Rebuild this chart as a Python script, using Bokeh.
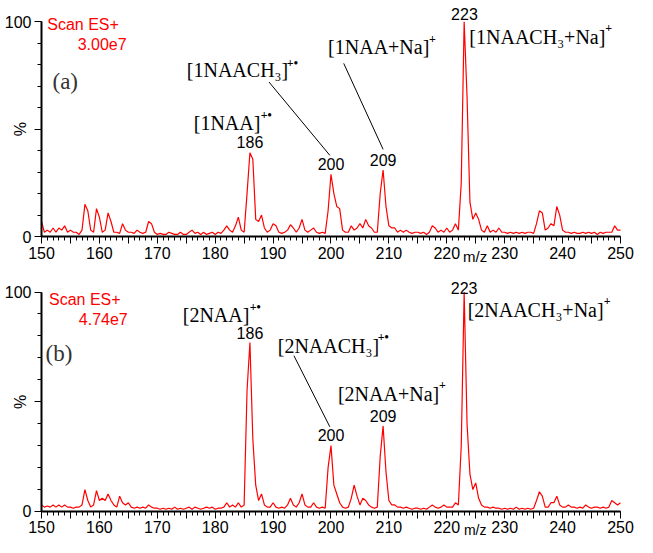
import numpy as np
from bokeh.plotting import figure
from bokeh.layouts import column
from bokeh.models import FixedTicker, Label, Range1d
from bokeh.embed import file_html
from bokeh.resources import INLINE

# ---------------- data ----------------
MZ_START, MZ_STEP = 150, 0.5

# panel (a) relative intensity (%), sampled every 0.5 m/z from 150 to 250
intens_a = [
    7, 2, 3, 2, 4, 2, 4, 3, 5, 2,            # 150
    3, 2, 2, 1, 3, 15, 12, 3, 2, 13,         # 155
    9, 2, 3, 11, 7, 2, 2, 1.5, 6, 3,         # 160
    2, 2, 1.5, 3, 2, 1.5, 2, 7, 6, 2,        # 165
    1, 1.5, 1, 1, 2, 1.5, 1, 1, 2, 1,        # 170
    1, 2, 3, 1.5, 2, 1, 2, 1, 1.5, 2,        # 175
    1, 2, 1.5, 3, 5, 3, 2, 5, 9, 3,          # 180
    2, 20, 39, 36, 8, 7, 10, 4, 2, 3,        # 185
    6, 5, 2, 1.5, 2, 3, 5.5, 4, 2, 4,        # 190
    8, 3, 2, 3, 4, 2, 1.5, 2, 1.5, 12,       # 195
    29, 20, 14, 13, 3, 2, 2, 5, 3, 4,        # 200
    6, 4, 8, 5, 4, 2, 2, 20, 31, 14,         # 205
    5, 4, 4, 2, 3, 2, 3, 2, 1.5, 2,          # 210
    2, 1.5, 2, 1, 2, 5, 4, 2, 3, 2,          # 215
    4, 2, 3, 6, 3, 25, 100, 65, 16, 8,       # 220
    11, 8, 3, 2, 5, 2, 3, 2, 4, 2,           # 225
    2, 1.5, 2, 1.5, 2, 1.5, 2, 1.5, 2, 2,    # 230
    1.5, 6, 12, 11, 3, 4, 6, 5, 14, 10,      # 235
    3, 2, 2, 1.5, 2, 1.5, 1.5, 2, 1.5, 2,    # 240
    1.5, 2, 1, 2, 1.5, 2, 2, 2, 5, 3,        # 245
    3,                                       # 250
]

# panel (b)
intens_b = [
    3, 2, 2.5, 2, 3, 2, 3, 2, 3, 2,          # 150
    2, 1.5, 2, 2, 3, 10, 5, 2, 3, 9.5,       # 155
    5, 6, 5, 8, 5, 3, 2, 7, 4, 3,            # 160
    4, 2, 1.5, 2, 1.5, 2, 1.5, 3, 2, 1.5,    # 165
    1.5, 1, 1.5, 1, 1.5, 1, 2, 1, 1.5, 1,    # 170
    1.5, 2, 1, 2, 1.5, 1, 1.5, 2, 1.5, 2,    # 175
    1, 1.5, 1.5, 2, 4, 2, 3, 2, 4, 2,        # 180
    3, 55, 77, 33, 12, 5, 8, 3, 2, 2,        # 185
    4, 2, 1.5, 2, 1.5, 3, 6, 3, 2, 4,        # 190
    8, 3, 2, 2, 4, 2, 1.5, 2, 1.5, 20,       # 195
    30, 12, 8, 4, 2, 1.5, 2, 6, 12, 7,       # 200
    3, 6, 5, 3, 2, 1.5, 2, 25, 39, 18,       # 205
    5, 3, 3, 2, 2, 1.5, 2, 1.5, 1, 1.5,      # 210
    1.5, 1, 1.5, 1, 2, 3, 2, 1.5, 2, 3,      # 215
    2, 2, 2, 4, 3, 30, 100, 40, 17, 10,      # 220
    13, 6, 3, 2, 2, 1.5, 2, 1.5, 1.5, 1,     # 225
    1.5, 1, 1.5, 1, 2, 1, 1.5, 1, 1.5, 1,    # 230
    1.5, 5, 9, 7, 2, 2, 4, 4, 7, 3,          # 235
    2, 2, 3, 2, 2, 1.5, 2, 1.5, 3, 2,        # 240
    1.5, 2, 2, 1.5, 2, 1.5, 2, 5, 4, 3,      # 245
    4,                                       # 250
]

x_ticks = list(range(150, 251, 10))
x_labels = [str(v) for v in x_ticks]
y_ticks = [0, 50, 100]
y_labels = ["0", "", "100"]

SANS = "Liberation Sans"
SERIF = "Liberation Serif"


def add_label(p, x, y, text, size="16px", font=SANS, color="black",
              align="left", baseline="middle", x_offset=0, angle=0,
              style="normal"):
    p.add_layout(Label(x=x, y=y, text=text, text_font=font,
                       text_font_size=size, text_color=color,
                       text_align=align, text_baseline=baseline,
                       x_offset=x_offset, angle=angle,
                       text_font_style=style))


def make_panel(intens, height, border_top, y_start):
    mz = MZ_START + MZ_STEP * np.arange(len(intens))
    p = figure(width=637, height=height, x_range=Range1d(143.61, 252.94),
               y_range=Range1d(y_start, 108), output_backend="svg",
               toolbar_location=None, min_border_left=4,
               min_border_right=0, min_border_top=border_top,
               min_border_bottom=0)
    p.line(mz, intens, color="#ff0000", line_width=1.2)
    p.xgrid.visible = False
    p.ygrid.visible = False
    p.outline_line_color = None
    p.background_fill_color = "white"

    xa = p.xaxis[0]
    xa.fixed_location = 0
    xa.ticker = FixedTicker(ticks=list(range(150, 251, 5)),
                            minor_ticks=list(range(150, 251)))
    ov = {v: "" for v in range(155, 251, 10)}
    ov.update({t: l for t, l in zip(x_ticks, x_labels)})
    xa.major_label_overrides = ov
    xa.bounds = (150, 250)
    ya = p.yaxis[0]
    ya.fixed_location = 150
    ya.ticker = FixedTicker(ticks=y_ticks, minor_ticks=list(range(0, 101, 10)))
    ya.major_label_overrides = {t: l for t, l in zip(y_ticks, y_labels)}
    ya.bounds = (0, 100)
    for ax in (xa, ya):
        ax.axis_line_width = 2
        ax.axis_line_color = "black"
        ax.major_tick_in = 0
        ax.major_tick_out = 7
        ax.minor_tick_in = 0
        ax.minor_tick_out = 4
        ax.major_tick_line_width = 1
        ax.minor_tick_line_width = 1
        ax.major_tick_line_color = "black"
        ax.minor_tick_line_color = "black"
        ax.major_label_text_font = SANS
        ax.major_label_text_font_size = "16px"
        ax.major_label_text_color = "black"
        ax.major_label_standoff = 3
    ya.major_label_orientation = "horizontal"
    return p


# ---------------- panel (a) ----------------
p1 = make_panel(intens_a, 264, 4, -13.0)
add_label(p1, 151.0, 98.6, "Scan ES+", color="#ff0000")
add_label(p1, 164.7, 89.4, "3.00e7", color="#ff0000", align="right")
add_label(p1, 151.9, 72, "(a)", size="23px", font=SERIF, color="#333333")
add_label(p1, 146.3, 50, "%", angle=np.pi / 2, align="center")
add_label(p1, 224.9, -9.3, "m/z", size="15px", align="center")

add_label(p1, 176.3, 53, "[1NAA]", size="20px", font=SERIF)
add_label(p1, 176.3, 56.5, "+\u2022", size="12px", font=SERIF, style="bold", x_offset=67)
add_label(p1, 186, 43.8, "186", align="center")

add_label(p1, 175.1, 77.4, "[1NAACH\u2083]", size="20px", font=SERIF)
add_label(p1, 175.1, 81, "+\u2022", size="12px", font=SERIF, style="bold", x_offset=100)
p1.line([189.3, 199.8], [71.9, 37.8], color="black", line_width=1)
add_label(p1, 200, 33.6, "200", align="center")

add_label(p1, 199.5, 88, "[1NAA+Na]", size="20px", font=SERIF)
add_label(p1, 199.5, 92, "+", size="12px", font=SERIF, style="bold", x_offset=101)
p1.line([202.2, 209.0], [80.6, 40.6], color="black", line_width=1)
add_label(p1, 209, 35.5, "209", align="center")

add_label(p1, 223.05, 103.7, "223", align="center")
add_label(p1, 223.9, 93, "[1NAACH\u2083+Na]", size="20px", font=SERIF)
add_label(p1, 223.9, 97, "+", size="12px", font=SERIF, style="bold", x_offset=136)

# ---------------- panel (b) ----------------
p2 = make_panel(intens_b, 273, 10, -11.85)
add_label(p2, 151.3, 96.8, "Scan ES+", color="#ff0000")
add_label(p2, 164.9, 87.7, "4.74e7", color="#ff0000", align="right")
add_label(p2, 150.7, 71.8, "(b)", size="23px", font=SERIF, color="#333333")
add_label(p2, 146.3, 50, "%", angle=np.pi / 2, align="center")
add_label(p2, 224.9, -8.4, "m/z", size="14px", align="center")

add_label(p2, 174.4, 89.5, "[2NAA]", size="20px", font=SERIF)
add_label(p2, 174.4, 93, "+\u2022", size="12px", font=SERIF, style="bold", x_offset=67)
add_label(p2, 186, 81.4, "186", align="center")

add_label(p2, 190.8, 75.5, "[2NAACH\u2083]", size="20px", font=SERIF)
add_label(p2, 190.8, 79.5, "+\u2022", size="12px", font=SERIF, style="bold", x_offset=100)
p2.line([193.6, 199.8], [71.0, 38.6], color="black", line_width=1)
add_label(p2, 200, 35, "200", align="center")

add_label(p2, 201.2, 53.6, "[2NAA+Na]", size="20px", font=SERIF)
add_label(p2, 201.2, 57.5, "+", size="12px", font=SERIF, style="bold", x_offset=101)
add_label(p2, 209, 43.6, "209", align="center")

add_label(p2, 223.0, 102, "223", align="center")
add_label(p2, 223.6, 92, "[2NAACH\u2083+Na]", size="20px", font=SERIF)
add_label(p2, 223.6, 96, "+", size="12px", font=SERIF, style="bold", x_offset=136)

layout = column(p1, p2, spacing=0)
open("out.html", "w").write(file_html(layout, INLINE))
